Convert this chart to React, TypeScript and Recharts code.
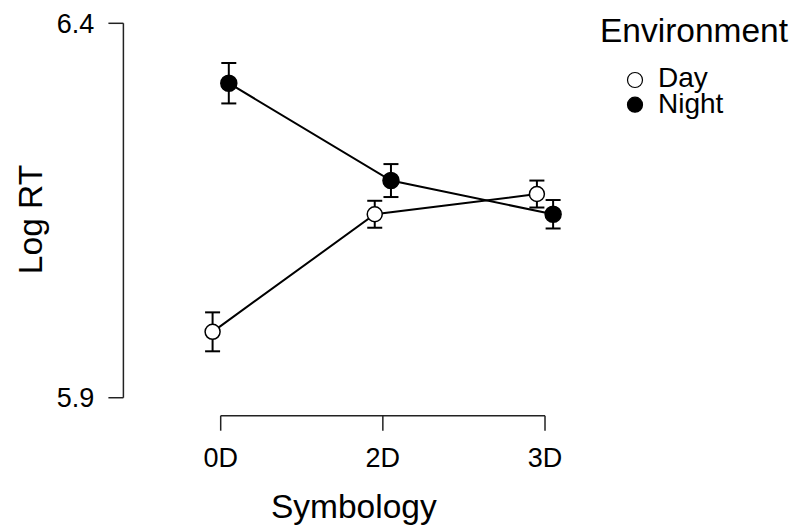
import {
  ComposedChart,
  Line,
  XAxis,
  YAxis,
  ErrorBar,
  ReferenceLine,
  Legend,
} from "recharts"

// values
const SYMBOLOGY = ["0D", "2D", "3D"]
const DAY_MEAN = [5.988, 6.145, 6.172]
const DAY_SE = [0.026, 0.018, 0.018]
const NIGHT_MEAN = [6.32, 6.19, 6.145]
const NIGHT_SE = [0.027, 0.022, 0.019]
const Y_TICKS = [5.9, 6.4]
const X_TICKS = [1, 2, 3]

const X_DOMAIN: [number, number] = [0.4, 3.6]
const Y_DOMAIN: [number, number] = [5.876, 6.4]
const DODGE = 0.05
const FONT = "'Liberation Sans', Arial, Helvetica, sans-serif"
const TITLE_SIZE = 33.5

const SERIES = [
  { name: "Day", mean: DAY_MEAN, se: DAY_SE, shift: -DODGE, filled: false },
  { name: "Night", mean: NIGHT_MEAN, se: NIGHT_SE, shift: DODGE, filled: true },
]

const seriesData = (mean: number[], se: number[], shift: number) =>
  mean.map((m, i) => ({ x: X_TICKS[i] + shift, y: m, err: se[i] }))

const makeDot = (filled: boolean) => (p: any) => (
  <circle
    key={p.index}
    cx={p.cx}
    cy={p.cy}
    r={filled ? 8 : 7.5}
    fill={filled ? "#000" : "#fff"}
    stroke="#000"
    strokeWidth={1.5}
  />
)

const XTitle = (props: any) => {
  const { x, y, width } = props.viewBox
  // the title sits a little left of the plot's centre in the original
  return (
    <text x={x + width / 2 - 29} y={y + 102.6} textAnchor="middle" fontSize={TITLE_SIZE} fill="#000">
      Symbology
    </text>
  )
}

const YTitle = (props: any) => {
  const { x, y, height } = props.viewBox
  const cx = x + 42
  const cy = y + height / 2
  return (
    <text
      x={cx}
      y={cy}
      transform={`rotate(-90 ${cx} ${cy})`}
      textAnchor="middle"
      fontSize={TITLE_SIZE}
      fill="#000"
    >
      Log RT
    </text>
  )
}

const renderLegend = () => (
  <svg width={203} height={130} style={{ fontFamily: FONT }}>
    <text x={10} y={42} fontSize={TITLE_SIZE} fill="#000">
      Environment
    </text>
    {SERIES.map((s, i) => (
      <g key={s.name}>
        <circle
          cx={45}
          cy={80 + i * 24.7}
          r={7.5}
          fill={s.filled ? "#000" : "#fff"}
          stroke="#000"
          strokeWidth={1.2}
        />
        <text x={68} y={87 + i * 26} fontSize={28} fill="#000">
          {s.name}
        </text>
      </g>
    ))}
  </svg>
)

export default function App() {
  return (
    <div style={{ width: 793, height: 529, fontFamily: FONT, background: "#fff" }}>
      <style>{"body{margin:0}"}</style>
      <ComposedChart
        width={793}
        height={529}
        margin={{ top: 23.3, right: 150.7, bottom: 0, left: 0 }}
      >
        <XAxis
          type="number"
          dataKey="x"
          domain={X_DOMAIN}
          allowDataOverflow
          ticks={X_TICKS}
          interval={0}
          tickFormatter={(v: number) => SYMBOLOGY[v - 1]}
          axisLine={false}
          tickLine={{ stroke: "#222", strokeWidth: 1.5 }}
          tickSize={15}
          tickMargin={17}
          tick={{ fill: "#000", fontSize: 27 }}
          height={113.3}
          label={{ content: XTitle }}
        />
        <YAxis
          type="number"
          domain={Y_DOMAIN}
          allowDataOverflow
          ticks={Y_TICKS}
          interval={0}
          tickFormatter={(v: number) => v.toFixed(1)}
          axisLine={false}
          tickLine={{ stroke: "#222", strokeWidth: 1.5 }}
          tickSize={15}
          tickMargin={14}
          tick={{ fill: "#000", fontSize: 27 }}
          width={123.4}
          label={{ content: YTitle }}
        />
        <ReferenceLine
          segment={[
            { x: X_DOMAIN[0], y: Y_TICKS[0] },
            { x: X_DOMAIN[0], y: Y_TICKS[Y_TICKS.length - 1] },
          ]}
          stroke="#222"
          strokeWidth={1.5}
          ifOverflow="visible"
        />
        <ReferenceLine
          segment={[
            { x: X_TICKS[0], y: Y_DOMAIN[0] },
            { x: X_TICKS[X_TICKS.length - 1], y: Y_DOMAIN[0] },
          ]}
          stroke="#222"
          strokeWidth={1.5}
          ifOverflow="visible"
        />
        {SERIES.map((s) => (
          <Line
            key={s.name}
            name={s.name}
            data={seriesData(s.mean, s.se, s.shift)}
            dataKey="y"
            type="linear"
            stroke="#000"
            strokeWidth={2}
            dot={makeDot(s.filled)}
            activeDot={false}
            isAnimationActive={false}
          >
            <ErrorBar dataKey="err" direction="y" width={7.5} stroke="#000" strokeWidth={2} />
          </Line>
        ))}
        <Legend
          layout="vertical"
          align="center"
          verticalAlign="middle"
          wrapperStyle={{ top: 0, left: 590, width: 203, height: 130 }}
          content={renderLegend}
        />
      </ComposedChart>
    </div>
  )
}
